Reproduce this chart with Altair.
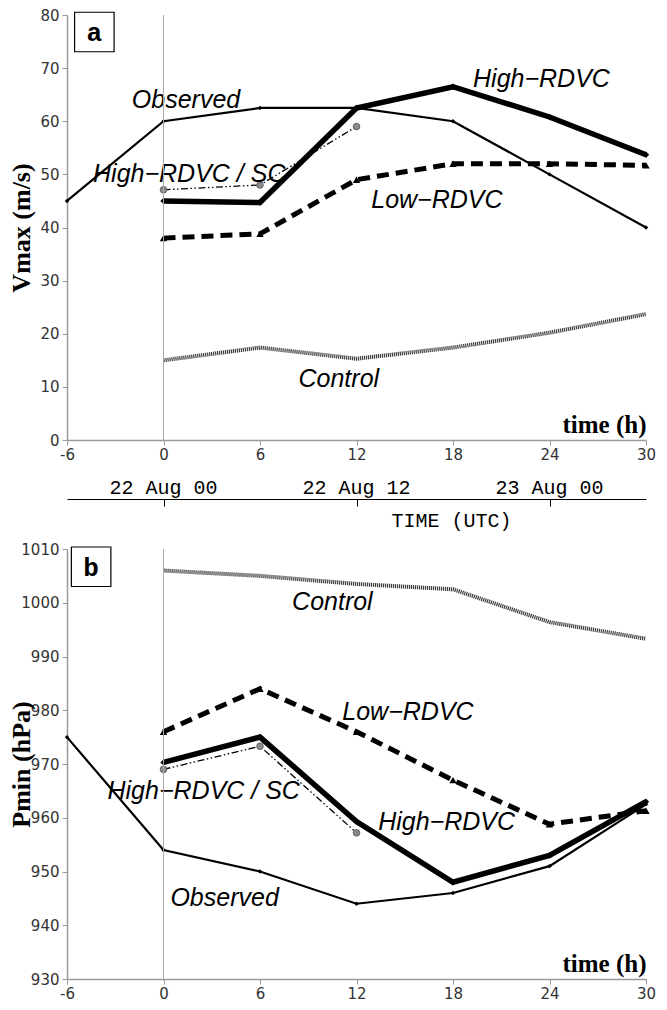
import altair as alt
import pandas as pd

# ---------------- data ----------------
HOURS = [0, 6, 12, 18, 24, 30]
OBS_HOURS = [-6, 0, 6, 12, 18, 24, 30]
SC_HOURS = [0, 6, 12]
X_TICKS = [-6, 0, 6, 12, 18, 24, 30]

VMAX_OBSERVED = [45, 60, 62.5, 62.5, 60, 50, 40]
VMAX_HIGH = [45, 44.7, 62.5, 66.5, 60.8, 53.7]
VMAX_HIGH_SC = [47.1, 48, 59]
VMAX_LOW = [38, 38.8, 49, 52, 52, 51.7]
VMAX_CONTROL = [15, 17.4, 15.3, 17.4, 20.2, 23.7]

PMIN_OBSERVED = [975, 954, 950, 944, 946, 951, 962.5]
PMIN_HIGH = [970.3, 975, 959.3, 948, 953, 963]
PMIN_HIGH_SC = [969, 973.3, 957.2]
PMIN_LOW = [976, 984, 976, 967, 958.8, 961.3]
PMIN_CONTROL = [1006, 1005, 1003.5, 1002.5, 996.4, 993.3]

DATE_TICKS = [0, 12, 24]
DATE_LABELS = ["22 Aug 00", "22 Aug 12", "23 Aug 00"]

SERIES = ["Observed", "High\u2212RDVC", "High\u2212RDVC / SC", "Low\u2212RDVC", "Control"]
SERIES_HOURS = [OBS_HOURS, HOURS, SC_HOURS, HOURS, HOURS]

# annotation anchors (data units: hour, value)
VMAX_LABEL_AT = [(1.4, 64), (23.5, 68), (1.6, 50), (17, 45.2), (10.9, 11.5)]
PMIN_LABEL_AT = [(3.8, 945), (17.6, 959.2), (2.5, 965), (15.2, 979.7), (10.5, 1000.1)]
VMAX_LETTER_AT = (-4.3, 76.8)
PMIN_LETTER_AT = (-4.5, 1006.7)

# ---------------- styles ----------------
LINE_STYLE = {
    SERIES[0]: dict(color="black", strokeWidth=2.2),
    SERIES[1]: dict(color="black", strokeWidth=5.5),
    SERIES[2]: dict(color="black", strokeWidth=1.3, strokeDash=[7, 2.5, 1.5, 2.5, 1.5, 2.5]),
    SERIES[3]: dict(color="black", strokeWidth=5, strokeDash=[12, 7], strokeCap="butt"),
    SERIES[4]: dict(color="#3c3c3c", strokeWidth=4, strokeDash=[1.2, 0.8]),
}
POINT_STYLE = {
    SERIES[0]: dict(shape="diamond", size=20, filled=True, color="black", opacity=1),
    SERIES[1]: dict(shape="diamond", size=40, filled=True, color="black", opacity=1),
    SERIES[2]: dict(shape="circle", size=45, filled=True, color="#8a8a8a", stroke="#555", strokeWidth=0.8, opacity=1),
    SERIES[3]: dict(shape="triangle-up", size=55, filled=True, color="black", opacity=1),
}

W = 579
X_SCALE = dict(domain=[-6, 30], nice=False, zero=False)


def x_enc():
    return alt.X(
        "hour:Q",
        scale=alt.Scale(**X_SCALE),
        axis=alt.Axis(
            values=X_TICKS, labelExpr="'' + datum.value", labelFlush=False,
            labelFont="DejaVu Sans", labelFontSize=15, labelColor="#333",
            domainColor="#9a9a9a", domainWidth=1.5, tickColor="#9a9a9a", tickSize=5,
            labelPadding=2, grid=False,
            title="time (h)", titleFont="Liberation Serif", titleFontWeight="bold",
            titleFontSize=25, titleColor="black", titleAlign="right", titleAnchor="end",
            titleX=W, titleY=-8, titleBaseline="alphabetic",
        ),
    )


def y_enc(domain, step, title, title_size):
    return alt.Y(
        "value:Q",
        scale=alt.Scale(domain=domain, nice=False, zero=False),
        axis=alt.Axis(
            values=list(range(domain[0], domain[1] + 1, step)), labelExpr="'' + datum.value",
            labelFont="DejaVu Sans", labelFontSize=15, labelColor="#333",
            domainColor="#9a9a9a", domainWidth=1.5, tickColor="#9a9a9a", tickSize=5,
            labelPadding=3, grid=False, labelFlush=False,
            title=title, titleFont="Liberation Serif", titleFontWeight="bold",
            titleFontSize=title_size, titleColor="black", titleX=-46, titleBaseline="middle",
        ),
    )


def panel(values, domain, step, title, title_size, label_at, letter, letter_at, height):
    X = x_enc()
    Y = y_enc(domain, step, title, title_size)
    layers = []
    for name, hrs, vals in zip(SERIES, SERIES_HOURS, values):
        df = pd.DataFrame({"hour": hrs, "value": vals})
        base = alt.Chart(df)
        layers.append(base.mark_line(**LINE_STYLE[name]).encode(x=X, y=Y))
        if name in POINT_STYLE:
            layers.append(base.mark_point(**POINT_STYLE[name]).encode(x=X, y=Y))
    vline = alt.Chart(pd.DataFrame({"hour": [0]})).mark_rule(
        color="#aaaaaa", strokeWidth=1).encode(x=X)
    lab = pd.DataFrame({
        "hour": [p[0] for p in label_at],
        "value": [p[1] for p in label_at],
        "label": SERIES,
    })
    texts = alt.Chart(lab).mark_text(
        font="Liberation Sans", fontStyle="italic", fontSize=25,
        color="black", align="center", baseline="middle").encode(x=X, y=Y, text="label:N")
    let = pd.DataFrame({"hour": [letter_at[0]], "value": [letter_at[1]], "label": [letter]})
    box = alt.Chart(let).mark_square(
        size=1560, color="white", stroke="black", strokeWidth=1.2, opacity=1).encode(x=X, y=Y)
    letter_txt = alt.Chart(let).mark_text(
        font="Liberation Mono", fontWeight="bold", fontSize=26,
        color="black", align="center", baseline="middle", dy=1).encode(x=X, y=Y, text="label:N")
    return alt.layer(*layers, texts, box, letter_txt, vline).properties(width=W, height=height)


top = panel([VMAX_OBSERVED, VMAX_HIGH, VMAX_HIGH_SC, VMAX_LOW, VMAX_CONTROL],
            [0, 80], 10, "Vmax (m/s)", 26, VMAX_LABEL_AT, "a", VMAX_LETTER_AT, 425)
bottom = panel([PMIN_OBSERVED, PMIN_HIGH, PMIN_HIGH_SC, PMIN_LOW, PMIN_CONTROL],
               [930, 1010], 10, "Pmin (hPa)", 26, PMIN_LABEL_AT, "b", PMIN_LETTER_AT, 430)

# secondary UTC time axis between the panels
date_df = pd.DataFrame({"hour": DATE_TICKS, "label": DATE_LABELS})
middle = alt.Chart(date_df).mark_text(
    font="Liberation Mono", fontSize=20, color="black", align="center", baseline="middle", dy=1
).encode(
    x=alt.X("hour:Q", scale=alt.Scale(**X_SCALE), axis=alt.Axis(
        orient="bottom", values=DATE_TICKS, labels=False, domainColor="black",
        domainWidth=1, tickColor="black", tickSize=7, tickWidth=1, grid=False,
        title="TIME (UTC)", titleFont="Liberation Mono", titleFontSize=20,
        titleFontWeight="normal", titleColor="black", titleX=384, titleY=11,
        titleBaseline="top", titleAlign="center")),
    text="label:N",
).properties(width=W, height=25)

chart = alt.vconcat(top, middle, bottom, spacing=12).properties(
    padding={"left": 0, "top": 0, "right": 0, "bottom": 0}
).configure_view(stroke=None)

chart.save("out.html", embed_options={"renderer": "svg", "actions": False})
